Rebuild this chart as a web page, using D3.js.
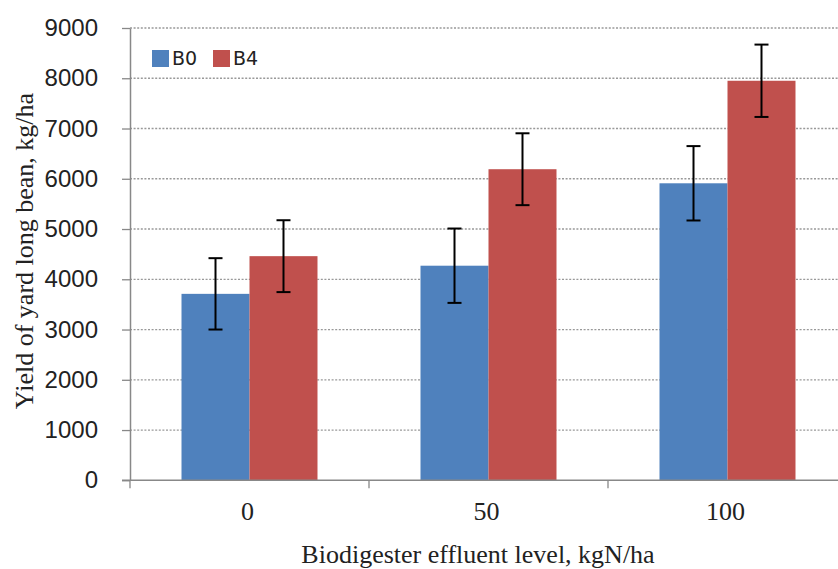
<!DOCTYPE html>
<html>
<head>
<meta charset="utf-8">
<script src="https://cdn.jsdelivr.net/npm/d3@7"></script>
<style>
  body { margin: 0; background: #fff; }
  svg { display: block; }
</style>
</head>
<body>
<div id="chart"></div>
<script>
// data
const levels = ["0", "50", "100"];
const series = ["B0", "B4"];
const b0Values = [3710, 4270, 5910];
const b4Values = [4460, 6190, 7950];
const b0Errors = [710, 740, 740];
const b4Errors = [715, 715, 720];
const yTicks = [0, 1000, 2000, 3000, 4000, 5000, 6000, 7000, 8000, 9000];
const colors = ["#4F81BD", "#C0504D"];

const width = 838, height = 569;
const plotLeft = 130, plotRight = 847, plotTop = 28, plotBottom = 480.3;

const svg = d3.select("#chart").append("svg")
  .attr("width", width)
  .attr("height", height);

const y = d3.scaleLinear().domain([0, 9000]).range([plotBottom, plotTop]);

// outer band for the nitrogen levels, inner band for the two series
const x = d3.scaleBand().domain(levels).range([plotLeft, plotRight])
  .paddingInner(0.431).paddingOuter(0.2155);
const xSub = d3.scaleBand().domain(series).range([0, x.bandwidth()]);

// dotted gridlines
svg.append("g")
  .selectAll("line")
  .data(yTicks.filter(d => d > 0))
  .join("line")
  .attr("x1", plotLeft)
  .attr("x2", width)
  .attr("y1", d => y(d))
  .attr("y2", d => y(d))
  .attr("stroke", "#999")
  .attr("stroke-width", 1.3)
  .attr("stroke-dasharray", "2,1.6");

// y axis
const yAxis = svg.append("g")
  .attr("transform", `translate(${plotLeft},0)`)
  .call(d3.axisLeft(y).tickValues(yTicks).tickFormat(d3.format("d"))
    .tickSize(8).tickSizeOuter(0).tickPadding(24));
yAxis.select(".domain").attr("stroke", "#888").attr("stroke-width", 1.5);
yAxis.selectAll(".tick line").attr("stroke", "#888").attr("stroke-width", 1.3);
yAxis.selectAll(".tick text")
  .attr("font-family", "Liberation Sans, Arial, sans-serif")
  .attr("font-size", 24)
  .attr("fill", "#222");

// bars
const rows = levels.map((lv, i) => ({
  level: lv,
  items: [
    { key: "B0", value: b0Values[i], err: b0Errors[i] },
    { key: "B4", value: b4Values[i], err: b4Errors[i] }
  ]
}));

const groups = svg.append("g")
  .selectAll("g")
  .data(rows)
  .join("g")
  .attr("transform", d => `translate(${x(d.level)},0)`);

groups.selectAll("rect")
  .data(d => d.items)
  .join("rect")
  .attr("x", d => xSub(d.key))
  .attr("y", d => y(d.value))
  .attr("width", xSub.bandwidth())
  .attr("height", d => y(0) - y(d.value))
  .attr("fill", (d, i) => colors[i]);

// error bars
const errG = groups.selectAll("g.err")
  .data(d => d.items)
  .join("g")
  .attr("class", "err")
  .attr("stroke", "#000")
  .attr("stroke-width", 2);

errG.append("line")
  .attr("x1", d => xSub(d.key) + xSub.bandwidth() / 2)
  .attr("x2", d => xSub(d.key) + xSub.bandwidth() / 2)
  .attr("y1", d => y(d.value + d.err))
  .attr("y2", d => y(d.value - d.err));

[1, -1].forEach(s => {
  errG.append("line")
    .attr("x1", d => xSub(d.key) + xSub.bandwidth() / 2 - 7)
    .attr("x2", d => xSub(d.key) + xSub.bandwidth() / 2 + 7)
    .attr("y1", d => y(d.value + s * d.err))
    .attr("y2", d => y(d.value + s * d.err));
});

// x axis
const xAxis = svg.append("g")
  .attr("transform", `translate(0,${plotBottom})`);
xAxis.append("line")
  .attr("x1", plotLeft - 8).attr("x2", width)
  .attr("stroke", "#888").attr("stroke-width", 1.5);
// tick marks between categories
xAxis.selectAll("line.tk")
  .data([plotLeft].concat(levels.map(d => x(d) + x.step() * (1 - x.paddingInner() / 2))))
  .join("line")
  .attr("class", "tk")
  .attr("x1", d => d).attr("x2", d => d)
  .attr("y1", 0).attr("y2", 8)
  .attr("stroke", "#888").attr("stroke-width", 1.3);
xAxis.selectAll("text")
  .data(levels)
  .join("text")
  .attr("x", d => x(d) + x.bandwidth() / 2 - 2)
  .attr("y", 40)
  .attr("text-anchor", "middle")
  .attr("font-family", "Liberation Serif, Times New Roman, serif")
  .attr("font-size", 26)
  .attr("fill", "#222")
  .text(d => d);

// axis titles
svg.append("text")
  .attr("x", 478)
  .attr("y", 563)
  .attr("text-anchor", "middle")
  .attr("font-family", "Liberation Serif, Times New Roman, serif")
  .attr("font-size", 26)
  .attr("fill", "#222")
  .text("Biodigester effluent level, kgN/ha");

svg.append("text")
  .attr("transform", "translate(33,251) rotate(-90)")
  .attr("text-anchor", "middle")
  .attr("font-family", "Liberation Serif, Times New Roman, serif")
  .attr("font-size", 26)
  .attr("fill", "#222")
  .text("Yield of yard long bean, kg/ha");

// legend
const legend = svg.append("g");
const legendX = [152, 213];
series.forEach((s, i) => {
  legend.append("rect")
    .attr("x", legendX[i]).attr("y", 50)
    .attr("width", 17).attr("height", 17)
    .attr("fill", colors[i]);
  legend.append("text")
    .attr("x", legendX[i] + 20).attr("y", 65)
    .attr("font-family", "DejaVu Sans, sans-serif")
    .attr("font-size", 19)
    .attr("fill", "#222")
    .text(s);
});
</script>
</body>
</html>
